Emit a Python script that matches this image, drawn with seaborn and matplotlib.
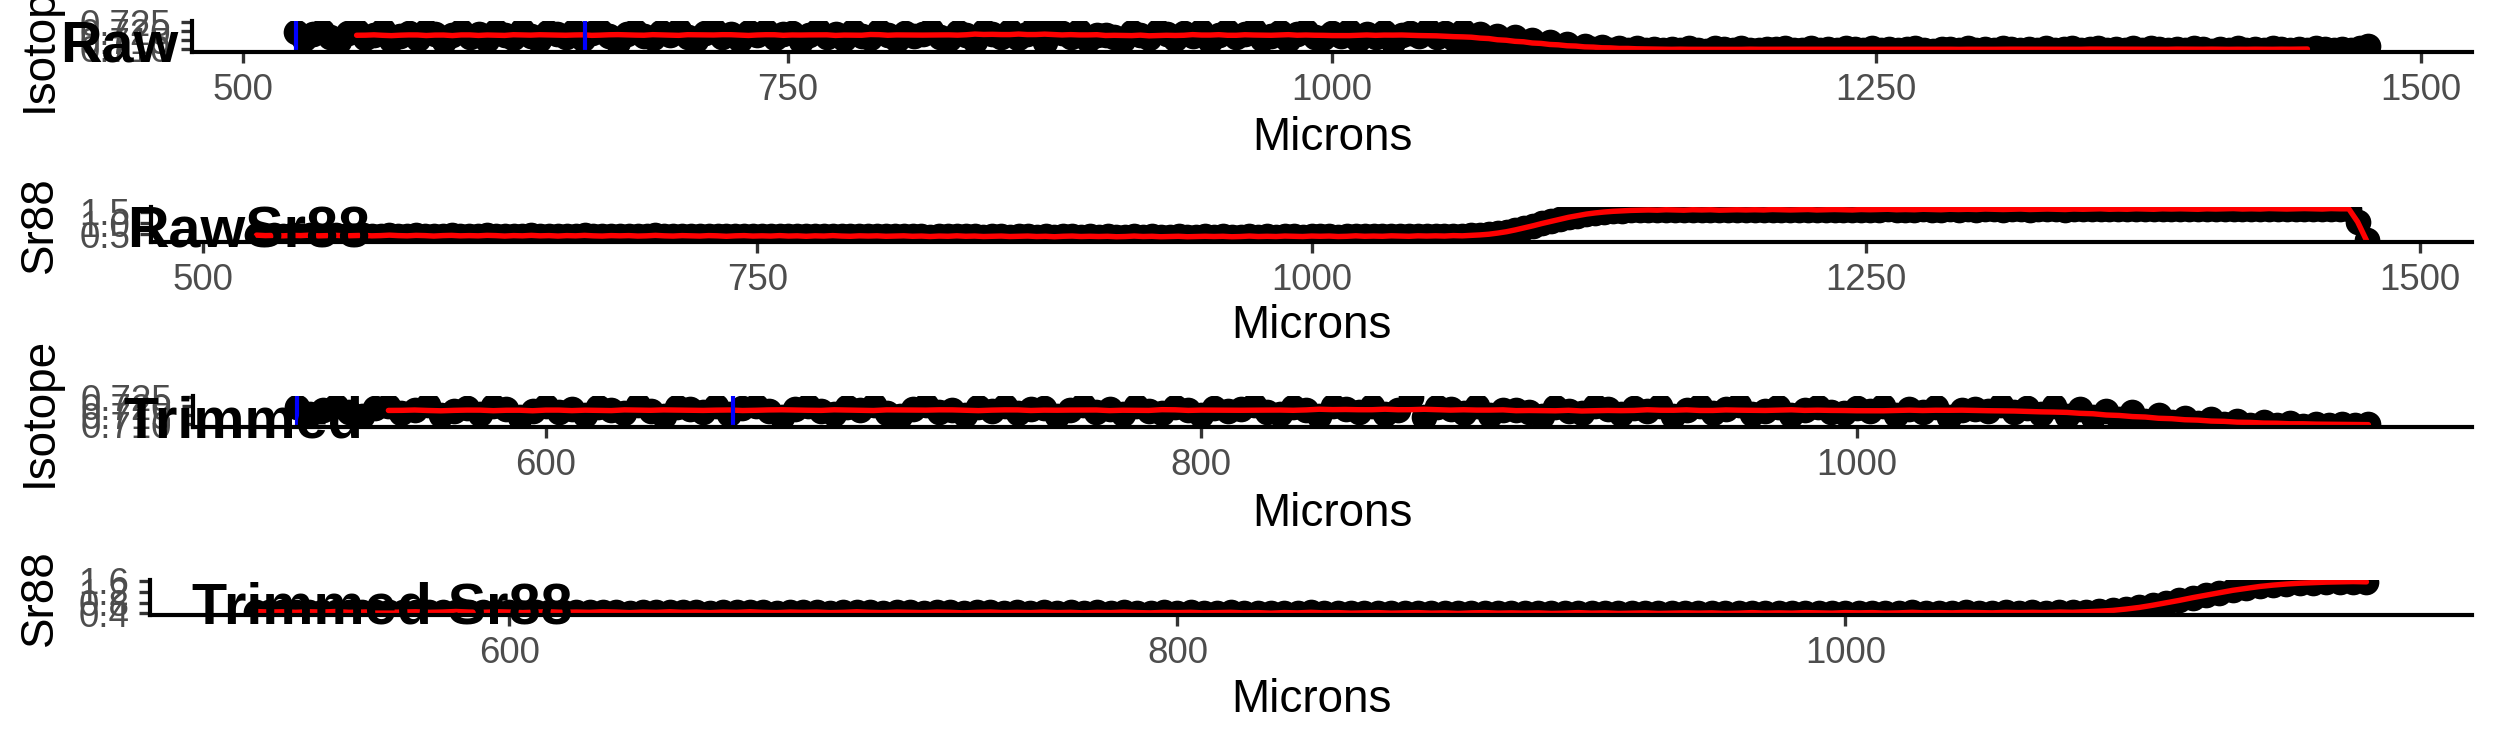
import numpy as np
import pandas as pd
import matplotlib
matplotlib.use("Agg")
import matplotlib.pyplot as plt
import seaborn as sns

# scan positions along the transect (microns), 4 um steps
microns = np.arange(524, 1477, 4)

# 87Sr/86Sr ratio
isotope = [
    0.7197, 0.7155, 0.7182, 0.7204, 0.7166, 0.7147, 0.7190, 0.7200, 0.7162, 0.7178, 0.7207, 0.7151,
    0.7173, 0.7192, 0.7158, 0.7204, 0.7183, 0.7143, 0.7177, 0.7203, 0.7169, 0.7187, 0.7153, 0.7199,
    0.7181, 0.7162, 0.7205, 0.7174, 0.7149, 0.7195, 0.7186, 0.7166, 0.7200, 0.7157, 0.7190, 0.7201,
    0.7172, 0.7142, 0.7183, 0.7204, 0.7175, 0.7160, 0.7194, 0.7179, 0.7207, 0.7165, 0.7148, 0.7188,
    0.7205, 0.7170, 0.7182, 0.7152, 0.7197, 0.7177, 0.7201, 0.7161, 0.7185, 0.7191, 0.7146, 0.7178,
    0.7205, 0.7169, 0.7186, 0.7157, 0.7200, 0.7175, 0.7164, 0.7199, 0.7181, 0.7151, 0.7192, 0.7173,
    0.7187, 0.7208, 0.7166, 0.7156, 0.7196, 0.7178, 0.7147, 0.7203, 0.7185, 0.7168, 0.7203, 0.7160,
    0.7182, 0.7250, 0.7140, 0.7199, 0.7188, 0.7165, 0.7200, 0.7153, 0.7181, 0.7181, 0.7170, 0.7149,
    0.7195, 0.7177, 0.7161, 0.7201, 0.7183, 0.7155, 0.7190, 0.7172, 0.7204, 0.7144, 0.7179, 0.7200,
    0.7165, 0.7186, 0.7205, 0.7158, 0.7175, 0.7194, 0.7151, 0.7182, 0.7199, 0.7169, 0.7162, 0.7191,
    0.7173, 0.7203, 0.7153, 0.7183, 0.7166, 0.7197, 0.7139, 0.7178, 0.7188,
    # drop-off between ~1040 and ~1150 um
    0.7176, 0.7209, 0.7168, 0.7192, 0.7158, 0.7201, 0.7147, 0.7183, 0.7139, 0.7172,
    0.7128, 0.7166, 0.7121, 0.7150, 0.7112, 0.7138, 0.7106, 0.7127, 0.7101, 0.7118,
    0.7099, 0.7112, 0.7095, 0.7107, 0.7093, 0.7104, 0.7096, 0.7102, 0.7094,
    # low plateau
    0.7100, 0.7093, 0.7105, 0.7097, 0.7091, 0.7103, 0.7099, 0.7094, 0.7107, 0.7096, 0.7092, 0.7101,
    0.7098, 0.7104, 0.7093, 0.7097, 0.7108, 0.7095, 0.7100, 0.7092, 0.7103, 0.7099, 0.7094, 0.7106,
    0.7097, 0.7101, 0.7093, 0.7098, 0.7105, 0.7096, 0.7091, 0.7102, 0.7099, 0.7094, 0.7107, 0.7097,
    0.7100, 0.7093, 0.7104, 0.7098, 0.7092, 0.7101, 0.7096, 0.7106, 0.7095, 0.7099, 0.7103, 0.7094,
    0.7098, 0.7105, 0.7092, 0.7100, 0.7097, 0.7103, 0.7095, 0.7108, 0.7099, 0.7093, 0.7101, 0.7096,
    0.7104, 0.7098, 0.7091, 0.7102, 0.7097, 0.7106, 0.7094, 0.7100, 0.7095, 0.7103, 0.7099, 0.7093,
    0.7101, 0.7096, 0.7105, 0.7098, 0.7094, 0.7102, 0.7097, 0.7104, 0.7118,
]

# Sr88 signal (V)
sr88 = [
    0.47, 0.45, 0.46, 0.44, 0.46, 0.45, 0.47, 0.44, 0.45, 0.46, 0.44, 0.45,
    0.46, 0.44, 0.45, 0.47, 0.45, 0.44, 0.46, 0.45, 0.43, 0.45, 0.46, 0.44,
    0.45, 0.44, 0.46, 0.45, 0.43, 0.45, 0.44, 0.46, 0.44, 0.45, 0.43, 0.45,
    0.44, 0.46, 0.44, 0.43, 0.45, 0.44, 0.45, 0.43, 0.44, 0.46, 0.44, 0.43,
    0.45, 0.44, 0.43, 0.45, 0.44, 0.42, 0.44, 0.45, 0.43, 0.44, 0.43, 0.45,
    0.43, 0.44, 0.42, 0.44, 0.43, 0.45, 0.43, 0.42, 0.44, 0.43, 0.44, 0.42,
    0.43, 0.44, 0.42, 0.43, 0.41, 0.43, 0.42, 0.44, 0.42, 0.43, 0.41, 0.42,
    0.43, 0.41, 0.42, 0.43, 0.41, 0.42, 0.40, 0.42, 0.43, 0.41, 0.42, 0.41,
    0.42, 0.40, 0.41, 0.43, 0.41, 0.42, 0.40, 0.41, 0.42, 0.40, 0.41, 0.42,
    0.41, 0.42, 0.40, 0.41, 0.43, 0.41, 0.42, 0.41, 0.43, 0.42, 0.41, 0.43,
    0.42, 0.43, 0.41, 0.42, 0.44, 0.42, 0.43, 0.42, 0.44, 0.43, 0.42, 0.44,
    0.43, 0.44, 0.43, 0.45, 0.44, 0.46,
    # rise
    0.48, 0.51, 0.56, 0.62, 0.70, 0.79, 0.88, 0.98, 1.07, 1.16,
    1.25, 1.32, 1.39, 1.44, 1.48, 1.51, 1.53, 1.55, 1.56,
    # high plateau
    1.57, 1.56, 1.58, 1.57, 1.56, 1.58, 1.57, 1.58, 1.56, 1.57, 1.58, 1.57,
    1.58, 1.57, 1.59, 1.58, 1.57, 1.58, 1.59, 1.57, 1.58, 1.59, 1.58, 1.57,
    1.59, 1.58, 1.59, 1.60, 1.58, 1.59, 1.58, 1.60, 1.59, 1.58, 1.60, 1.59,
    1.60, 1.59, 1.61, 1.60, 1.59, 1.60, 1.61, 1.59, 1.60, 1.61, 1.60, 1.59,
    1.61, 1.60, 1.61, 1.62, 1.60, 1.61, 1.60, 1.62, 1.61, 1.60, 1.62, 1.61,
    1.62, 1.61, 1.60, 1.62, 1.61, 1.62, 1.63, 1.61, 1.62, 1.61, 1.63, 1.62,
    1.61, 1.62, 1.63, 1.62, 1.61, 1.63, 1.62, 1.62,
    # end of ablation
    1.05, 0.24,
]

trim_end = 1157          # trimmed series stop here
window = [524, 657]      # blue markers on the isotope panels

titles = ["Raw", "RawSr88", "Trimmed", "Trimmed Sr88"]
ylabels = ["Isotope", "Sr88", "Isotope", "Sr88"]
raw_xticks = [500, 750, 1000, 1250, 1500]
trim_xticks = [600, 800, 1000]
iso_ticks = [0.710, 0.715, 0.720, 0.725]
sr_raw_ticks = [0.5, 1.0, 1.5]
sr_trim_ticks = [0.4, 0.8, 1.2, 1.6]

df = pd.DataFrame({"Microns": microns, "Isotope": isotope, "Sr88": sr88})
df["Smooth"] = df["Isotope"].rolling(15, center=True).mean()
trimmed = df[df["Microns"] <= trim_end]

sns.set_theme(style="ticks")
plt.rcParams["font.family"] = ["Liberation Sans", "DejaVu Sans"]

W, H = 2495, 749
fig = plt.figure(figsize=(W / 300, H / 300), dpi=300, facecolor="white")


def expand(lo, hi, f=0.05):
    r = hi - lo
    return lo - f * r, hi + f * r


# panel boxes in pixels: left, top, bottom (all end at x=2472)
boxes = [(192, 21, 52), (151, 207, 242), (193, 396, 427), (150, 580, 615)]
panels = [
    (df, "Isotope", raw_xticks, iso_ticks, "{:.3f}"),
    (df, "Sr88", raw_xticks, sr_raw_ticks, "{:.1f}"),
    (trimmed, "Isotope", trim_xticks, iso_ticks, "{:.3f}"),
    (trimmed, "Sr88", trim_xticks, sr_trim_ticks, "{:.1f}"),
]
xlab_y = [138, 326, 514, 700]
title_pos = [(60, 62), (127, 248), (123, 437), (192, 623)]

for i, (d, col, xt, yt, fmt) in enumerate(panels):
    left, top, bottom = boxes[i]
    ax = fig.add_axes([left / W, 1 - bottom / H, (2472 - left) / W, (bottom - top) / H])
    sns.scatterplot(data=d, x="Microns", y=col, color="black", s=38,
                    linewidth=0, ax=ax, legend=False)
    if col == "Isotope":
        sns.lineplot(data=d, x="Microns", y="Smooth", color="red", lw=1.3, ax=ax)
        for v in window:
            ax.axvline(v, color="blue", lw=1.0)
    else:
        sns.lineplot(data=d, x="Microns", y="Sr88", color="red", lw=1.3, ax=ax)

    ax.set_xlim(expand(d["Microns"].min(), d["Microns"].max()))
    ax.set_ylim(expand(d[col].min(), d[col].max()))
    ax.set_xticks(xt)
    ax.set_xticklabels([str(t) for t in xt])
    ax.set_yticks(yt)
    ax.set_yticklabels([fmt.format(t) for t in yt])
    ax.set_xlabel("")
    ax.set_ylabel("")
    ax.tick_params(length=2.75, width=0.8, color="#333333", labelcolor="#4D4D4D",
                   labelsize=8.8, pad=2.2)
    sns.despine(ax=ax)
    for s in ["left", "bottom"]:
        ax.spines[s].set_linewidth(1.0)
        ax.spines[s].set_color("black")

    cy = (top + bottom) / 2
    fig.text(40 / W, 1 - cy / H, ylabels[i], rotation=90, ha="center", va="center",
             fontsize=11, color="black")
    fig.text((left + 2472) / 2 / W, 1 - xlab_y[i] / H, "Microns", ha="center",
             va="center", fontsize=11, color="black")
    tx, ty = title_pos[i]
    fig.text(tx / W, 1 - ty / H, titles[i], ha="left", va="baseline",
             fontsize=13.8, fontweight="bold", color="black", zorder=10)

fig.savefig("out.png", dpi=300)
